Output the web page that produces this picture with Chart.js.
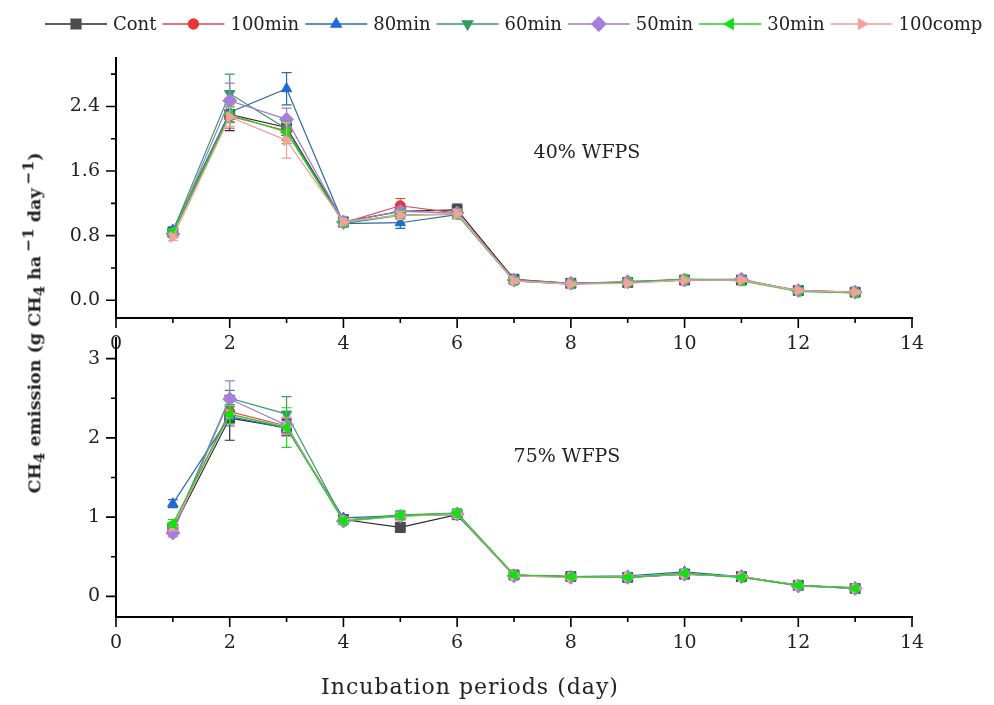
<!DOCTYPE html>
<html>
<head>
<meta charset="utf-8">
<script src="https://cdn.jsdelivr.net/npm/chart.js@4.4.1/dist/chart.umd.min.js"></script>
<style>
    html, body { margin: 0; padding: 0; background: #fff; }
    #wrap { position: relative; width: 994px; height: 705px; overflow: hidden; }
    canvas { position: absolute; left: 0; }
    #cTop { top: 0; }
    #cBot { top: 330px; }
    .lbl { position: absolute; font-family: 'DejaVu Serif', serif; color: #222; white-space: nowrap; transform: translate(-50%, -50%); }
    #ytitle { left: 34px; top: 323px; transform: translate(-50%, -50%) rotate(-90deg); font-weight: bold; font-size: 17.5px; }
    #ytitle sup { font-size: 88%; margin-left: 4px; }
    #ytitle sub { font-size: 85%; }
</style>
</head>
<body>
<div id="wrap">
    <canvas id="cTop" width="994" height="350"></canvas>
    <canvas id="cBot" width="994" height="375"></canvas>
    <div class="lbl" id="ytitle">CH<sub>4</sub> emission (g CH<sub>4</sub> ha<sup>−1</sup> day<sup>−1</sup>)</div>
    <div class="lbl" style="left:470px;top:686px;font-size:22px;letter-spacing:1px;">Incubation periods (day)</div>
    <div class="lbl" style="left:587px;top:151px;font-size:19px;">40% WFPS</div>
    <div class="lbl" style="left:567px;top:455px;font-size:19px;">75% WFPS</div>
</div>
<script>
// jours d'incubation
const days = [1, 2, 3, 4, 5, 6, 7, 8, 9, 10, 11, 12, 13];
const seriesNames = ['Cont', '100min', '80min', '60min', '50min', '30min', '100comp'];

// 40% WFPS
const cont40    = [0.84, 2.30, 2.14, 0.97, 1.10, 1.12, 0.26, 0.21, 0.22, 0.25, 0.25, 0.12, 0.10];
const min100_40 = [0.83, 2.28, 2.10, 0.96, 1.17, 1.08, 0.25, 0.21, 0.22, 0.25, 0.25, 0.12, 0.10];
const min80_40  = [0.87, 2.33, 2.62, 0.95, 0.96, 1.06, 0.24, 0.20, 0.23, 0.26, 0.26, 0.11, 0.10];
const min60_40  = [0.85, 2.56, 2.12, 0.95, 1.05, 1.07, 0.24, 0.21, 0.22, 0.26, 0.25, 0.12, 0.09];
const min50_40  = [0.82, 2.47, 2.24, 0.97, 1.10, 1.08, 0.25, 0.21, 0.23, 0.25, 0.26, 0.12, 0.10];
const min30_40  = [0.84, 2.30, 2.08, 0.96, 1.06, 1.06, 0.24, 0.20, 0.22, 0.26, 0.24, 0.11, 0.09];
const comp100_40 = [0.78, 2.27, 1.98, 0.97, 1.05, 1.07, 0.24, 0.20, 0.21, 0.25, 0.25, 0.12, 0.10];

const errCont40    = [0.04, 0.20, 0.10, 0.05, 0.05, 0.07, 0.03, 0.02, 0.02, 0.02, 0.02, 0.02, 0.02];
const errMin100_40 = [0.03, 0.15, 0.12, 0.04, 0.09, 0.05, 0.03, 0.02, 0.02, 0.02, 0.02, 0.02, 0.02];
const errMin80_40  = [0.04, 0.12, 0.20, 0.04, 0.07, 0.05, 0.03, 0.02, 0.03, 0.02, 0.02, 0.02, 0.02];
const errMin60_40  = [0.03, 0.24, 0.12, 0.04, 0.05, 0.05, 0.03, 0.02, 0.02, 0.02, 0.02, 0.02, 0.02];
const errMin50_40  = [0.03, 0.22, 0.14, 0.04, 0.05, 0.05, 0.03, 0.02, 0.02, 0.02, 0.02, 0.02, 0.02];
const errMin30_40  = [0.04, 0.10, 0.14, 0.04, 0.05, 0.05, 0.03, 0.02, 0.02, 0.02, 0.02, 0.02, 0.02];
const errComp100_40 = [0.04, 0.12, 0.22, 0.04, 0.05, 0.05, 0.03, 0.02, 0.02, 0.02, 0.02, 0.02, 0.02];

// 75% WFPS
const cont75    = [0.85, 2.25, 2.13, 0.97, 0.87, 1.03, 0.27, 0.25, 0.24, 0.28, 0.25, 0.14, 0.10];
const min100_75 = [0.88, 2.33, 2.15, 0.96, 1.02, 1.04, 0.27, 0.25, 0.24, 0.28, 0.25, 0.14, 0.10];
const min80_75  = [1.17, 2.27, 2.12, 0.99, 1.02, 1.03, 0.26, 0.25, 0.26, 0.31, 0.25, 0.14, 0.11];
const min60_75  = [0.85, 2.50, 2.30, 0.96, 1.03, 1.05, 0.27, 0.25, 0.24, 0.29, 0.24, 0.14, 0.10];
const min50_75  = [0.80, 2.49, 2.16, 0.95, 1.01, 1.04, 0.26, 0.24, 0.24, 0.28, 0.25, 0.13, 0.10];
const min30_75  = [0.92, 2.30, 2.13, 0.95, 1.02, 1.05, 0.27, 0.25, 0.24, 0.29, 0.24, 0.14, 0.10];
const comp100_75 = [0.88, 2.30, 2.14, 0.96, 1.01, 1.04, 0.26, 0.24, 0.25, 0.28, 0.25, 0.14, 0.10];

const errCont75    = [0.05, 0.28, 0.10, 0.04, 0.06, 0.05, 0.03, 0.02, 0.02, 0.02, 0.02, 0.02, 0.02];
const errMin100_75 = [0.05, 0.15, 0.10, 0.04, 0.05, 0.05, 0.03, 0.02, 0.02, 0.02, 0.02, 0.02, 0.02];
const errMin80_75  = [0.05, 0.12, 0.10, 0.04, 0.05, 0.05, 0.03, 0.02, 0.03, 0.03, 0.02, 0.02, 0.02];
const errMin60_75  = [0.05, 0.10, 0.22, 0.04, 0.05, 0.05, 0.03, 0.02, 0.02, 0.02, 0.02, 0.02, 0.02];
const errMin50_75  = [0.05, 0.23, 0.10, 0.04, 0.05, 0.05, 0.03, 0.02, 0.02, 0.02, 0.02, 0.02, 0.02];
const errMin30_75  = [0.05, 0.12, 0.25, 0.04, 0.05, 0.05, 0.03, 0.02, 0.02, 0.02, 0.02, 0.02, 0.02];
const errComp100_75 = [0.05, 0.12, 0.12, 0.04, 0.05, 0.05, 0.03, 0.02, 0.02, 0.02, 0.02, 0.02, 0.02];

// graduations
const xMajor = [0, 2, 4, 6, 8, 10, 12, 14];
const xMinor = [1, 3, 5, 7, 9, 11, 13];
const yTopMajor = [0.0, 0.8, 1.6, 2.4];
const yTopMinor = [0.4, 1.2, 2.0, 2.8];
const yBotMajor = [0, 1, 2, 3];
const yBotMinor = [0.5, 1.5, 2.5];

// styles des séries
const markerColors = ['#4a4a4a', '#e53935', '#1e6bd6', '#2f9e5f', '#a77ddf', '#12e012', '#f3a19d'];
const lineColors = ['#2a2a2a', '#e0474c', '#2d6aa8', '#3a9a68', '#9d7ccc', '#20d420', '#f0a0a0'];
const pointStyles = ['rect', 'circle', 'triangle', 'triangle', 'rectRot', 'triangle', 'triangle'];
const rotations = [0, 0, 0, 180, 0, 270, 90];
const radii = [7, 5, 6, 6, 7, 6, 6];

const serifTicks = { family: 'DejaVu Serif', size: 19 };
const legendFont = '18px "DejaVu Serif"';

function buildDatasets(values, errs, orders) {
    return values.map((vals, i) => ({
        label: seriesNames[i],
        data: vals,
        errs: errs[i],
        borderColor: lineColors[i],
        backgroundColor: markerColors[i],
        pointBackgroundColor: markerColors[i],
        pointBorderColor: markerColors[i],
        pointStyle: pointStyles[i],
        pointRotation: rotations[i],
        pointRadius: radii[i],
        pointBorderWidth: 1,
        borderWidth: 1.2,
        tension: 0,
        order: orders[i]
    }));
}

// barres d'erreur dessinées avant chaque série
const errorBars = {
    id: 'errorBars',
    beforeDatasetDraw(chart, args) {
        const ds = chart.data.datasets[args.index];
        if (!ds.errs) return;
        const ys = chart.scales.y;
        const ctx = chart.ctx;
        ctx.save();
        ctx.strokeStyle = ds.borderColor;
        ctx.lineWidth = 1.2;
        args.meta.data.forEach((pt, j) => {
            const v = ds.data[j].y, e = ds.errs[j];
            const yHi = ys.getPixelForValue(v + e);
            const yLo = ys.getPixelForValue(v - e);
            ctx.beginPath();
            ctx.moveTo(pt.x, yHi); ctx.lineTo(pt.x, yLo);
            ctx.moveTo(pt.x - 5, yHi); ctx.lineTo(pt.x + 5, yHi);
            ctx.moveTo(pt.x - 5, yLo); ctx.lineTo(pt.x + 5, yLo);
            ctx.stroke();
        });
        ctx.restore();
    }
};

// graduations majeures / mineures vers l'extérieur
const axisTicks = {
    id: 'axisTicks',
    afterDraw(chart) {
        const ctx = chart.ctx;
        const xs = chart.scales.x, ys = chart.scales.y;
        const yMajor = chart.options.plugins.axisTicks.yMajor;
        ctx.save();
        ctx.strokeStyle = '#000';
        ctx.lineWidth = 1.6;
        ctx.beginPath();
        xs.ticks.forEach(t => {
            const px = xs.getPixelForValue(t.value);
            const len = xMajor.includes(t.value) ? 10 : 5;
            ctx.moveTo(px, xs.top); ctx.lineTo(px, xs.top + len);
        });
        ys.ticks.forEach(t => {
            const py = ys.getPixelForValue(t.value);
            const len = yMajor.includes(t.value) ? 10 : 5;
            ctx.moveTo(ys.right, py); ctx.lineTo(ys.right - len, py);
        });
        ctx.stroke();
        ctx.restore();
    }
};

// légende en haut : trait + marqueur + texte
const topLegend = {
    id: 'topLegend',
    afterDraw(chart) {
        const ctx = chart.ctx;
        ctx.save();
        ctx.font = legendFont;
        ctx.textBaseline = 'middle';
        ctx.textAlign = 'left';
        let x = 45;
        const y = 24;
        seriesNames.forEach((name, i) => {
            ctx.strokeStyle = lineColors[i];
            ctx.lineWidth = 1.3;
            ctx.beginPath();
            ctx.moveTo(x, y); ctx.lineTo(x + 62, y);
            ctx.stroke();
            ctx.fillStyle = markerColors[i];
            ctx.strokeStyle = markerColors[i];
            Chart.helpers.drawPoint(ctx, {
                pointStyle: pointStyles[i], rotation: rotations[i], radius: radii[i], borderWidth: 1
            }, x + 31, y);
            ctx.fillStyle = '#222';
            ctx.font = legendFont;
            ctx.fillText(name, x + 68, y + 1);
            x += 68 + ctx.measureText(name).width + 6;
        });
        ctx.restore();
    }
};

function panelOptions(yMin, yMax, yMajor, yMinor, digits, padTop, xHeight) {
    return {
        responsive: false,
        animation: false,
        events: [],
        layout: { padding: { top: padTop, right: 82, left: 0, bottom: 0 } },
        plugins: {
            legend: { display: false },
            tooltip: { enabled: false },
            axisTicks: { yMajor: yMajor }
        },
        scales: {
            x: {
                type: 'linear',
                min: 0,
                max: 14,
                afterBuildTicks: s => { s.ticks = xMajor.concat(xMinor).sort((a, b) => a - b).map(v => ({ value: v })); },
                afterFit: s => { s.height = xHeight; s.paddingLeft = 0; s.paddingRight = 0; },
                border: { display: true, color: '#000', width: 2 },
                grid: { display: true, drawOnChartArea: false, tickLength: 10, tickColor: 'rgba(0,0,0,0)' },
                ticks: {
                    autoSkip: false,
                    maxRotation: 0,
                    padding: 5,
                    color: '#222',
                    font: serifTicks,
                    callback: v => xMajor.includes(v) ? String(v) : ''
                }
            },
            y: {
                min: yMin,
                max: yMax,
                afterBuildTicks: s => { s.ticks = yMajor.concat(yMinor).sort((a, b) => a - b).map(v => ({ value: v })); },
                afterFit: s => { s.width = 116; s.paddingTop = 0; s.paddingBottom = 0; },
                border: { display: true, color: '#000', width: 2 },
                grid: { display: true, drawOnChartArea: false, tickLength: 10, tickColor: 'rgba(0,0,0,0)' },
                ticks: {
                    autoSkip: false,
                    padding: 6,
                    color: '#222',
                    font: serifTicks,
                    callback: v => yMajor.includes(v) ? v.toFixed(digits) : ''
                }
            }
        }
    };
}

const toPoints = arr => arr.map((v, i) => ({ x: days[i], y: v }));

const top40 = [cont40, min100_40, min80_40, min60_40, min50_40, min30_40, comp100_40].map(toPoints);
const bot75 = [cont75, min100_75, min80_75, min60_75, min50_75, min30_75, comp100_75].map(toPoints);

new Chart(document.getElementById('cTop'), {
    type: 'line',
    data: {
        datasets: buildDatasets(top40,
            [errCont40, errMin100_40, errMin80_40, errMin60_40, errMin50_40, errMin30_40, errComp100_40],
            [6, 5, 4, 3, 2, 1, 0])
    },
    options: panelOptions(-0.22, 3.0, yTopMajor, yTopMinor, 1, 58, 32),
    plugins: [errorBars, axisTicks, topLegend]
});

new Chart(document.getElementById('cBot'), {
    type: 'line',
    data: {
        datasets: buildDatasets(bot75,
            [errCont75, errMin100_75, errMin80_75, errMin60_75, errMin50_75, errMin30_75, errComp100_75],
            [6, 5, 4, 3, 2, 0, 1])
    },
    options: panelOptions(-0.26, 3.26, yBotMajor, yBotMinor, 0, 6, 88),
    plugins: [errorBars, axisTicks]
});
</script>
</body>
</html>
